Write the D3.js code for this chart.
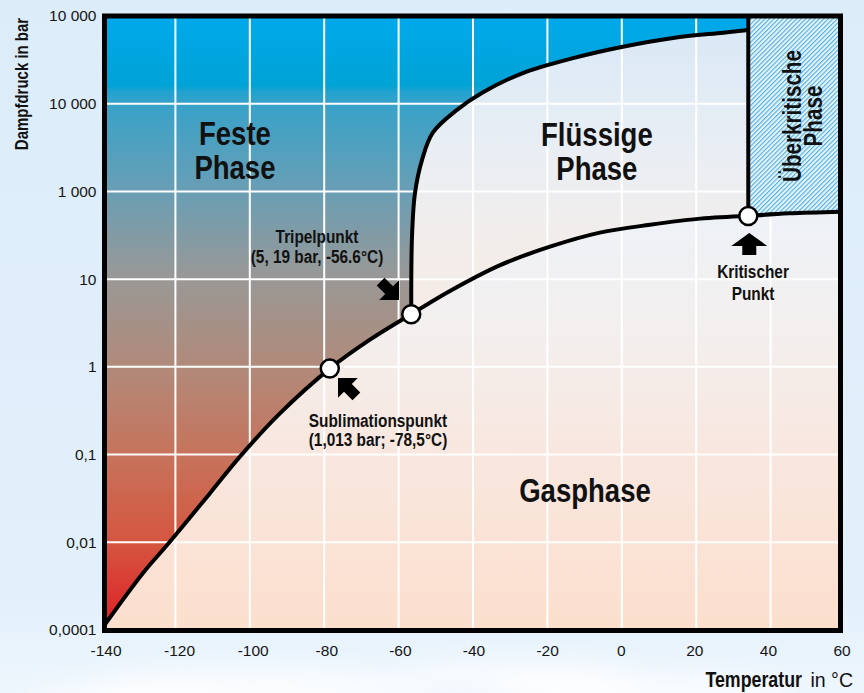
<!DOCTYPE html>
<html>
<head>
<meta charset="utf-8">
<script src="https://cdn.jsdelivr.net/npm/d3@7"></script>
<style>
  html, body { margin: 0; padding: 0; background: #deeefa; }
  svg { display: block; }
</style>
</head>
<body>
<svg id="chart" width="864" height="693"></svg>
<script>
// ---------- DATA ----------
const xTickValues = [-140, -120, -100, -80, -60, -40, -20, 0, 20, 40, 60];
const yTickLabels = ["0,0001", "0,01", "0,1", "1", "10", "1 000", "10 000", "10 000"];
// y values are positions on the (evenly spaced) pressure axis: 0 = "0,0001" ... 7 = top "10 000"
const sublimationCurve = [[-140, 0], [-128.7, 0.65], [-122, 0.98], [-110.7, 1.56], [-102.6, 1.98], [-91.9, 2.47], [-78.5, 2.98], [-67.7, 3.31], [-56.6, 3.60]];
const vaporCurve = [[-56.6, 3.60], [-46.2, 3.865], [-32.7, 4.16], [-19.3, 4.37], [-5.9, 4.53], [7.6, 4.62], [21.1, 4.69], [34, 4.72]];
const supercriticalCurve = [[34, 4.72], [45, 4.75], [60, 4.77]];
const meltingCurve = [[-56.6, 3.60], [-56.4, 4.48], [-55.6, 4.98], [-53.7, 5.36], [-50.8, 5.67], [-44.3, 5.93], [-37.3, 6.13], [-26.6, 6.35], [-13.1, 6.52], [0.3, 6.65], [13.8, 6.75], [27.3, 6.81], [34, 6.84]];
const specialPoints = [
  { name: "Sublimationspunkt", t: -78.5, p: 2.98 },
  { name: "Tripelpunkt", t: -56.6, p: 3.60 },
  { name: "Kritischer Punkt", t: 34, p: 4.72 }
];
const phaseLabels = [
  { lines: ["Feste", "Phase"], t: -104, p: 5.46 },
  { lines: ["Flüssige", "Phase"], t: -6.7, p: 5.45 },
  { lines: ["Gasphase"], t: -9.9, p: 1.59 }
];
const superLabel = { lines: ["Überkritische", "Phase"], t: 48.7, p: 5.86 };

// ---------- SETUP ----------
const svg = d3.select("#chart");
const W = 864, H = 693;
const frame = { x0: 104.5, x1: 840.5, y0: 16, y1: 630.5 };
const x = d3.scaleLinear().domain([-140, 60]).range([101, 845]);
const xLab = d3.scaleLinear().domain([-140, 60]).range([105.5, 841.5]);
const y = d3.scaleLinear().domain([0, 7]).range([630, 16]);

const boldFam = "'Liberation Sans', Arial, 'Helvetica Neue', sans-serif";
const regular = "'Liberation Sans', Arial, sans-serif";
const SX = 0.81; // horizontal condensing of the bold labels

const defs = svg.append("defs");

// page background
const bgGrad = defs.append("linearGradient").attr("id", "bgGrad")
  .attr("x1", 0).attr("y1", 0).attr("x2", 0).attr("y2", 1);
[[0, "#dcecf9"], [0.85, "#e2f0fb"], [1, "#eef6fd"]].forEach(s =>
  bgGrad.append("stop").attr("offset", s[0]).attr("stop-color", s[1]));
svg.append("rect").attr("width", W).attr("height", H).attr("fill", "url(#bgGrad)");
const blur = defs.append("filter").attr("id", "blur").attr("x", "-50%").attr("y", "-50%").attr("width", "200%").attr("height", "200%");
blur.append("feGaussianBlur").attr("stdDeviation", 12);
const clouds = [[260, 690, 170, 22], [520, 676, 120, 14], [640, 693, 150, 18], [120, 700, 90, 14]];
svg.append("g").attr("filter", "url(#blur)").selectAll("ellipse").data(clouds).join("ellipse")
  .attr("cx", d => d[0]).attr("cy", d => d[1]).attr("rx", d => d[2]).attr("ry", d => d[3])
  .attr("fill", "#ffffff").attr("opacity", 0.75);

// gradients for phases (user space)
function vGrad(id, stops) {
  const g = defs.append("linearGradient").attr("id", id).attr("gradientUnits", "userSpaceOnUse")
    .attr("x1", 0).attr("x2", 0).attr("y1", frame.y0).attr("y2", frame.y1);
  stops.forEach(s => g.append("stop").attr("offset", (s[0] - frame.y0) / (frame.y1 - frame.y0)).attr("stop-color", s[1]));
}
vGrad("solidGrad", [[16, "#00a9eb"], [86, "#00a3d6"], [91, "#1ea2d0"], [104, "#38a2c9"], [192, "#6a9eb4"], [278, "#999896"], [367, "#b18a7a"], [456, "#c7735b"], [544, "#d5553f"], [630, "#e01d26"]]);
vGrad("liquidGrad", [[16, "#d8e8f6"], [150, "#e9eef4"], [250, "#f3edea"], [320, "#f6ebe6"]]);
vGrad("gasGrad", [[200, "#edf2f8"], [330, "#f3efee"], [450, "#f8e7df"], [630, "#fcdfcd"]]);

const hatch = defs.append("pattern").attr("id", "hatch").attr("patternUnits", "userSpaceOnUse")
  .attr("width", 3.2).attr("height", 3.2).attr("patternTransform", "rotate(45)");
hatch.append("rect").attr("width", 3.2).attr("height", 3.2).attr("fill", "#e8f4fc");
hatch.append("line").attr("x1", 0.6).attr("y1", 0).attr("x2", 0.6).attr("y2", 3.2)
  .attr("stroke", "#3aa8e2").attr("stroke-width", 1);

defs.append("clipPath").attr("id", "plotClip").append("rect")
  .attr("x", frame.x0).attr("y", frame.y0).attr("width", frame.x1 - frame.x0).attr("height", frame.y1 - frame.y0);

const line = d3.line().x(d => x(d[0])).y(d => y(d[1])).curve(d3.curveCatmullRom.alpha(0.5));
const cont = p => "L" + line(p).slice(1);
const P = (t, p) => x(t) + "," + y(p);

const plot = svg.append("g").attr("clip-path", "url(#plotClip)");

// liquid background (whole plot)
plot.append("rect").attr("x", frame.x0).attr("y", frame.y0)
  .attr("width", frame.x1 - frame.x0).attr("height", frame.y1 - frame.y0).attr("fill", "url(#liquidGrad)");

// solid phase
plot.append("path")
  .attr("d", line(sublimationCurve) + cont(meltingCurve) + "L" + P(34, 7.2) + "L" + P(-141, 7.2) + "L" + P(-141, -0.2) + "Z")
  .attr("fill", "url(#solidGrad)");

// gas phase
plot.append("path")
  .attr("d", line(sublimationCurve) + cont(vaporCurve) + cont(supercriticalCurve) + "L" + P(61, -0.2) + "L" + P(-140, -0.2) + "Z")
  .attr("fill", "url(#gasGrad)");

// grid
plot.append("g").selectAll("line").data(xTickValues.slice(1, -1)).join("line")
  .attr("x1", d => x(d)).attr("x2", d => x(d)).attr("y1", frame.y0).attr("y2", frame.y1)
  .attr("stroke", "#ffffff").attr("stroke-width", 2);
plot.append("g").selectAll("line").data(d3.range(1, yTickLabels.length - 1)).join("line")
  .attr("y1", d => y(d)).attr("y2", d => y(d)).attr("x1", frame.x0).attr("x2", frame.x1)
  .attr("stroke", "#ffffff").attr("stroke-width", 2);

// supercritical phase (hatched)
plot.append("path")
  .attr("d", line(supercriticalCurve) + "L" + P(61, 7.2) + "L" + P(34, 7.2) + "Z")
  .attr("fill", "url(#hatch)");

// phase boundaries
const curveStyle = sel => sel.attr("fill", "none").attr("stroke", "#000").attr("stroke-width", 4).attr("stroke-linejoin", "round");
plot.append("path").attr("d", line(sublimationCurve) + cont(vaporCurve) + cont(supercriticalCurve)).call(curveStyle);
plot.append("path").attr("d", line(meltingCurve)).call(curveStyle);
plot.append("line").attr("x1", x(34)).attr("x2", x(34)).attr("y1", y(4.72)).attr("y2", y(7.2)).call(curveStyle);

// frame
svg.append("rect").attr("x", frame.x0).attr("y", frame.y0)
  .attr("width", frame.x1 - frame.x0).attr("height", frame.y1 - frame.y0)
  .attr("fill", "none").attr("stroke", "#000").attr("stroke-width", 5);

// special points
svg.append("g").selectAll("circle").data(specialPoints).join("circle")
  .attr("cx", d => x(d.t)).attr("cy", d => y(d.p)).attr("r", 9)
  .attr("fill", "#fff").attr("stroke", "#000").attr("stroke-width", 2.5);

// arrows
function blockArrow(tx, ty, angle, headW, headL, shaftW, shaftL) {
  const L = headL + shaftL;
  const d = `M0,0 L${-headL},${-headW / 2} L${-headL},${-shaftW / 2} L${-L},${-shaftW / 2} L${-L},${shaftW / 2} L${-headL},${shaftW / 2} L${-headL},${headW / 2} Z`;
  svg.append("path").attr("d", d).attr("fill", "#000")
    .attr("transform", `translate(${tx},${ty}) rotate(${angle})`);
}
blockArrow(x(34) + 1, y(4.72) + 17, -90, 36, 13, 14, 9);
blockArrow(399, 300, 45, 28, 14, 11, 12);
blockArrow(338, 378, -135, 28, 14, 11, 12);

// text helper: condensed bold via horizontal scaling
function label(lines, cx, baseY, size, gap, opts = {}) {
  const sx = opts.sx ?? SX;
  const rot = opts.rotate ?? 0;
  const g = svg.append("g").attr("transform", `translate(${cx},${baseY}) rotate(${rot}) scale(${sx},1)`);
  const t = g.append("text").attr("text-anchor", opts.anchor ?? "middle").attr("font-family", opts.family ?? boldFam)
    .attr("font-weight", opts.weight ?? "bold").attr("font-size", size).attr("fill", "#111");
  lines.forEach((s, i) => t.append("tspan").attr("x", 0).attr("y", i * gap).text(s));
  return t;
}
label(["Tripelpunkt", "(5, 19 bar, -56.6°C)"], 317, 243, 19, 20.5);
label(["Sublimationspunkt", "(1,013 bar; -78,5°C)"], 378, 427, 19, 19.5);
label(["Kritischer", "Punkt"], 753, 278, 19, 22);

// phase labels
phaseLabels.forEach(d => {
  const n = d.lines.length;
  label(d.lines, x(d.t), y(d.p) - (n - 1) * 17 + 11, 34, 34);
});
label(superLabel.lines, x(superLabel.t), y(superLabel.p), 25.5, 21, { rotate: -90 })
  .selectAll("tspan").attr("y", (d, i) => -2 + i * 21);

// axes
const yAxis = d3.axisLeft(y).tickValues(d3.range(yTickLabels.length)).tickFormat(i => yTickLabels[i]).tickSize(0).tickPadding(8);
const gy = svg.append("g").attr("transform", `translate(${frame.x0},0)`).call(yAxis);
gy.select(".domain").remove();
gy.selectAll("text").attr("font-family", regular).attr("font-size", 15.5).attr("fill", "#151515");

const xAxis = d3.axisBottom(xLab).tickValues(xTickValues).tickFormat(d => d).tickSize(0).tickPadding(14);
const gx = svg.append("g").attr("transform", `translate(0,${frame.y1})`).call(xAxis);
gx.select(".domain").remove();
gx.selectAll("text").attr("font-family", regular).attr("font-size", 15.5).attr("fill", "#151515");

// axis titles
label(["Dampfdruck in bar"], 28, 84, 18.5, 0, { rotate: -90 });
label(["Temperatur"], 802, 687, 22, 0, { anchor: "end" });
svg.append("text").attr("x", 853).attr("y", 687).attr("text-anchor", "end")
  .attr("font-family", regular).attr("font-size", 19.5).attr("fill", "#111").text("in °C");
</script>
</body>
</html>
